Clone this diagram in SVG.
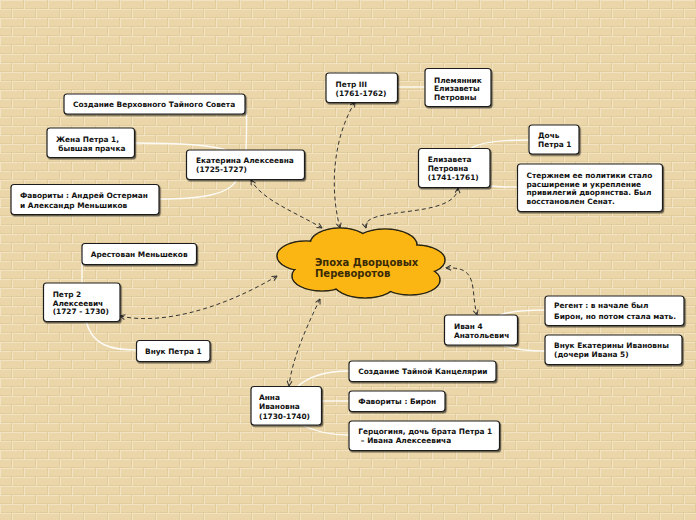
<svg xmlns="http://www.w3.org/2000/svg" width="696" height="520" viewBox="0 0 696 520">
<defs>
<pattern id="brick" width="24" height="18" patternUnits="userSpaceOnUse">
<rect width="24" height="18" fill="#ebd6a9"/>
<rect x="0" y="0" width="24" height="1" fill="#f2e4c2"/>
<rect x="0" y="9" width="24" height="1" fill="#f2e4c2"/>
<rect x="0" y="8" width="24" height="1" fill="#e2cc9b"/>
<rect x="0" y="17" width="24" height="1" fill="#e2cc9b"/>
<rect x="0" y="0" width="1" height="9" fill="#f2e4c2"/>
<rect x="12" y="9" width="1" height="9" fill="#f2e4c2"/>
<rect x="23" y="0" width="1" height="9" fill="#e2cc9b"/>
<rect x="11" y="9" width="1" height="9" fill="#e2cc9b"/>
</pattern>
<filter id="shadow" x="-10%" y="-20%" width="130%" height="150%">
<feDropShadow dx="1.2" dy="1.5" stdDeviation="0.6" flood-color="#000" flood-opacity="0.55"/>
</filter>
<marker id="arr" viewBox="0 0 6 6" refX="5.5" refY="3" markerWidth="6" markerHeight="6" markerUnits="userSpaceOnUse" orient="auto-start-reverse">
<path d="M0.5,0.5 L5.5,3 L0.5,5.5" fill="none" stroke="#333" stroke-width="1"/>
</marker>
</defs>
<style>
.box{fill:#fff;stroke:#1e1e1e;stroke-width:1.2;filter:url(#shadow)}
.t{font-family:"DejaVu Sans",Verdana,sans-serif;font-weight:bold;font-size:7.4px;fill:#111}
.ct{font-family:"DejaVu Sans",Verdana,sans-serif;font-weight:bold;font-size:10px;fill:#3a2b08}
.w{fill:none;stroke:#fff;stroke-width:1.4;stroke-opacity:0.9}
.d{fill:none;stroke:#333;stroke-width:1;stroke-dasharray:4,3;marker-start:url(#arr);marker-end:url(#arr)}
.cs{fill:#fbb614;stroke:#2a2512;stroke-width:1.6}
.cf{fill:#fbb614}
</style>
<rect width="696" height="520" fill="url(#brick)"/>

<g id="connectors">
<path class="w" d="M244 104 C247 104 247 120 246 150"/>
<path class="w" d="M134 143 C180 143 212 145 226 150"/>
<path class="w" d="M158 199 C200 199 230 195 237 179"/>
<path class="w" d="M397 87 L425 87"/>
<path class="w" d="M470 149 C480 141 510 140 529 140"/>
<path class="w" d="M490 186 C500 187 510 187 517 187"/>
<path class="w" d="M82 254 C82 265 82 275 82 283"/>
<path class="w" d="M86 321 C92 345 110 350 137 350"/>
<path class="w" d="M500 315 C510 311 530 310 545 310"/>
<path class="w" d="M502 345 C515 350 530 351 545 351"/>
<path class="w" d="M297 387 C310 375 330 371 349 371"/>
<path class="w" d="M321 401 L349 401"/>
<path class="w" d="M300 424 C315 432 330 435 349 435"/>

<path class="d" d="M322 228 C295 212 262 200 251 180"/>
<path class="d" d="M340 228 C330 190 332 140 355 102"/>
<path class="d" d="M366 228 C360 205 455 220 458 188"/>
<path class="d" d="M277 276 C220 310 160 325 120 316"/>
<path class="d" d="M446 268 C480 266 470 290 477 315"/>
<path class="d" d="M320 299 C305 330 292 360 289 386"/>
</g>

<g id="center">
<ellipse class="cs" cx="340" cy="244" rx="30" ry="16"/>
<ellipse class="cs" cx="385" cy="245" rx="32" ry="16"/>
<ellipse class="cs" cx="306" cy="256" rx="29" ry="15"/>
<ellipse class="cs" cx="415" cy="260" rx="30" ry="15"/>
<ellipse class="cs" cx="322" cy="276" rx="30" ry="15"/>
<ellipse class="cs" cx="365" cy="282" rx="32" ry="16"/>
<ellipse class="cs" cx="410" cy="280" rx="30" ry="15"/>
<ellipse class="cf" cx="340" cy="244" rx="29.2" ry="15.2"/>
<ellipse class="cf" cx="385" cy="245" rx="31.2" ry="15.2"/>
<ellipse class="cf" cx="306" cy="256" rx="28.2" ry="14.2"/>
<ellipse class="cf" cx="415" cy="260" rx="29.2" ry="14.2"/>
<ellipse class="cf" cx="322" cy="276" rx="29.2" ry="14.2"/>
<ellipse class="cf" cx="365" cy="282" rx="31.2" ry="15.2"/>
<ellipse class="cf" cx="410" cy="280" rx="29.2" ry="14.2"/>
<ellipse class="cf" cx="362" cy="263" rx="62" ry="20"/>
<text class="ct" x="315" y="266">Эпоха Дворцовых</text>
<text class="ct" x="315" y="277">Переворотов</text>
</g>

<g id="n-sozdanie-vts">
<rect class="box" x="64" y="94" width="181" height="20" rx="3"/>
<text class="t" x="73" y="106.5">Создание Верховного Тайного Совета</text>
</g>
<g id="n-zhena">
<rect class="box" x="47" y="128" width="87.5" height="29.5" rx="3"/>
<text class="t" x="56" y="141.5">Жена Петра 1,</text>
<text class="t" x="58.3" y="150.5">бывшая прачка</text>
</g>
<g id="n-ekaterina">
<rect class="box" x="186.5" y="150" width="118" height="29.5" rx="3"/>
<text class="t" x="196" y="162.5">Екатерина Алексеевна</text>
<text class="t" x="196" y="171.5">(1725-1727)</text>
</g>
<g id="n-favority-ek">
<rect class="box" x="11" y="184.5" width="148" height="30" rx="3"/>
<text class="t" x="20" y="198">Фавориты : Андрей Остерман</text>
<text class="t" x="20" y="207.5">и Александр Меньшиков</text>
</g>
<g id="n-petr3">
<rect class="box" x="326" y="73" width="71.5" height="29.5" rx="3"/>
<text class="t" x="335.5" y="86.5">Петр III</text>
<text class="t" x="335.5" y="95.8">(1761-1762)</text>
</g>
<g id="n-plemyannik">
<rect class="box" x="425" y="68.5" width="66" height="38" rx="3"/>
<text class="t" x="434" y="82.5">Племянник</text>
<text class="t" x="434" y="91">Елизаветы</text>
<text class="t" x="434" y="99.8">Петровны</text>
</g>
<g id="n-doch">
<rect class="box" x="529" y="125" width="50" height="29" rx="3"/>
<text class="t" x="538" y="137.5">Дочь</text>
<text class="t" x="538" y="147">Петра 1</text>
</g>
<g id="n-elizaveta">
<rect class="box" x="418.5" y="148.5" width="71.5" height="39" rx="3"/>
<text class="t" x="427.7" y="162">Елизавета</text>
<text class="t" x="427.7" y="171">Петровна</text>
<text class="t" x="427.7" y="180">(1741-1761)</text>
</g>
<g id="n-sterzhnem">
<rect class="box" x="517.5" y="164" width="145" height="47.5" rx="3"/>
<text class="t" x="526.5" y="177.5">Стержнем ее политики стало</text>
<text class="t" x="526.5" y="186.5">расширение и укрепление</text>
<text class="t" x="526.5" y="195.2">привилегий дворянства. Был</text>
<text class="t" x="526.5" y="204">восстановлен Сенат.</text>
</g>
<g id="n-arestovan">
<rect class="box" x="82" y="243.5" width="114.5" height="21" rx="3"/>
<text class="t" x="90.7" y="257">Арестован Меньшеков</text>
</g>
<g id="n-petr2">
<rect class="box" x="43.5" y="283" width="76.5" height="38.5" rx="3"/>
<text class="t" x="52.7" y="296.5">Петр 2</text>
<text class="t" x="52.7" y="305.5">Алексеевич</text>
<text class="t" x="52.7" y="314">(1727 - 1730)</text>
</g>
<g id="n-vnuk-petra">
<rect class="box" x="136.5" y="340.5" width="73.5" height="21" rx="3"/>
<text class="t" x="145" y="354">Внук Петра 1</text>
</g>
<g id="n-ivan4">
<rect class="box" x="444.5" y="315" width="73" height="30" rx="3"/>
<text class="t" x="454" y="328.5">Иван 4</text>
<text class="t" x="454" y="337.5">Анатольевич</text>
</g>
<g id="n-regent">
<rect class="box" x="545" y="296" width="139" height="29.5" rx="3"/>
<text class="t" x="554" y="308">Регент : в начале был</text>
<text class="t" x="554" y="318.5">Бирон, но потом стала мать.</text>
</g>
<g id="n-vnuk-ek">
<rect class="box" x="545" y="335" width="137" height="29.5" rx="3"/>
<text class="t" x="554" y="348">Внук Екатерины Ивановны</text>
<text class="t" x="554" y="357">(дочери Ивана 5)</text>
</g>
<g id="n-anna">
<rect class="box" x="251" y="386.5" width="70.5" height="38.5" rx="3"/>
<text class="t" x="259" y="400">Анна</text>
<text class="t" x="259" y="409">Ивановна</text>
<text class="t" x="259" y="418.5">(1730-1740)</text>
</g>
<g id="n-tainaya">
<rect class="box" x="349" y="361" width="147" height="20.5" rx="3"/>
<text class="t" x="358.3" y="374">Создание Тайной Канцелярии</text>
</g>
<g id="n-biron">
<rect class="box" x="349" y="391" width="96" height="20.5" rx="3"/>
<text class="t" x="358.3" y="404">Фавориты : Бирон</text>
</g>
<g id="n-gercoginya">
<rect class="box" x="349" y="421" width="150.5" height="29.5" rx="3"/>
<text class="t" x="358.3" y="433.5">Герцогиня, дочь брата Петра 1</text>
<text class="t" x="358.3" y="442.8" xml:space="preserve"> – Ивана Алексеевича</text>
</g>
</svg>
